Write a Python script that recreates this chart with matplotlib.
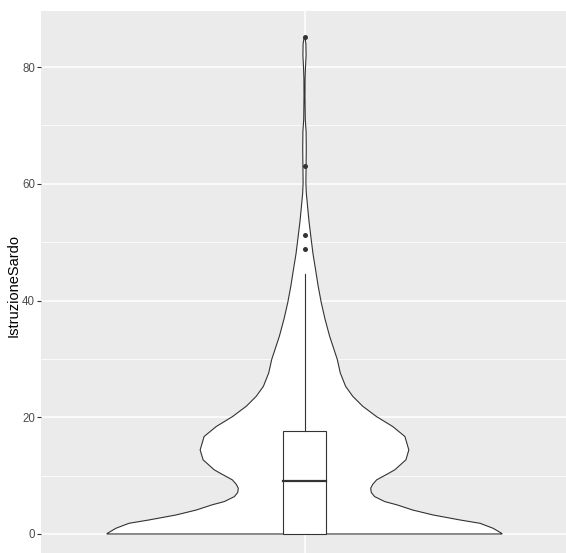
import numpy as np
import matplotlib
matplotlib.use('Agg')
import matplotlib.pyplot as plt

plt.rcParams['font.family'] = ['Liberation Sans', 'DejaVu Sans']

# violin outline: value -> relative half width (max = 1)
violin_y = [0, 0.1, 0.98, 1.83, 2.4, 3.26, 4.1, 5.0, 5.55, 6.4, 7.1, 7.84, 8.5, 9.27,
            10.4, 11.0, 12.7, 14.4, 16.7, 18.4, 20.1, 21.9, 23.6, 25.3, 27.6, 29.9,
            33.9, 36.8, 39.6, 42.5, 45.3, 48.0, 51.0, 53.5, 55.6, 58.5, 60.2, 63.0,
            66.0, 69.0, 71.0, 75.0, 78.0, 80.0, 82.0, 84.0, 85.2]
violin_dens = [1.0, 0.998, 0.954, 0.888, 0.787, 0.650, 0.548, 0.467, 0.406, 0.355,
               0.338, 0.335, 0.345, 0.365, 0.426, 0.457, 0.513, 0.528, 0.508, 0.447,
               0.365, 0.294, 0.244, 0.208, 0.181, 0.166, 0.127, 0.104, 0.085, 0.069,
               0.056, 0.043, 0.032, 0.023, 0.017, 0.009, 0.007, 0.008, 0.009, 0.008,
               0.004, 0.0025, 0.003, 0.005, 0.008, 0.007, 0.0015]

# boxplot stats
box_q1 = 0
box_med = 9
box_q3 = 17.7
whisk_lo = 0
whisk_hi = 44.6
outliers = [48.9, 51.2, 63.0, 85.2]

ylabel = 'IstruzioneSardo'

fig = plt.figure(figsize=(5.66, 5.53), dpi=100)
ax = fig.add_axes([41/566, 0, 527/566, 542.5/553])
ax.set_facecolor('#EBEBEB')

pos = 1.0
w = np.array(violin_dens) * 0.45
y = np.array(violin_y)
px = np.concatenate([pos - w, (pos + w)[::-1]])
py = np.concatenate([y, y[::-1]])
ax.fill(px, py, facecolor='white', edgecolor='#333333', linewidth=0.8, zorder=3)

# boxplot
bw = 0.05
ax.add_patch(plt.Rectangle((pos - bw, box_q1), 2*bw, box_q3 - box_q1,
                           facecolor='white', edgecolor='#333333', linewidth=0.8, zorder=4))
ax.plot([pos - bw, pos + bw], [box_med, box_med], color='#333333', lw=1.6, zorder=5)
ax.plot([pos, pos], [box_q3, whisk_hi], color='#333333', lw=0.8, zorder=4)
ax.plot([pos, pos], [whisk_lo, box_q1], color='#333333', lw=0.8, zorder=4)
ax.plot([pos]*len(outliers), outliers, 'o', color='#333333', ms=3.6, mec='none', zorder=6)

ax.set_xlim(0.4, 1.6)
ax.set_ylim(-3.26, 89.7)
ax.set_yticks([0, 20, 40, 60, 80])
ax.set_yticks([10, 30, 50, 70], minor=True)
ax.set_xticks([pos])
ax.set_xticklabels([])
ax.grid(True, which='major', color='white', lw=1.1, zorder=0)
ax.grid(True, which='minor', axis='y', color='white', lw=0.55, zorder=0)
ax.set_axisbelow(True)
for s in ax.spines.values():
    s.set_visible(False)
ax.tick_params(axis='y', which='major', length=2.8, width=0.8, color='#333333',
               labelcolor='#4D4D4D', labelsize=8.3, pad=1.5)
ax.tick_params(axis='y', which='minor', length=0)
ax.tick_params(axis='x', length=0)
ax.set_ylabel(ylabel, fontsize=10.5, color='black')
ax.yaxis.set_label_coords(-0.039, 0.493)

fig.savefig('out.png', dpi=100)
